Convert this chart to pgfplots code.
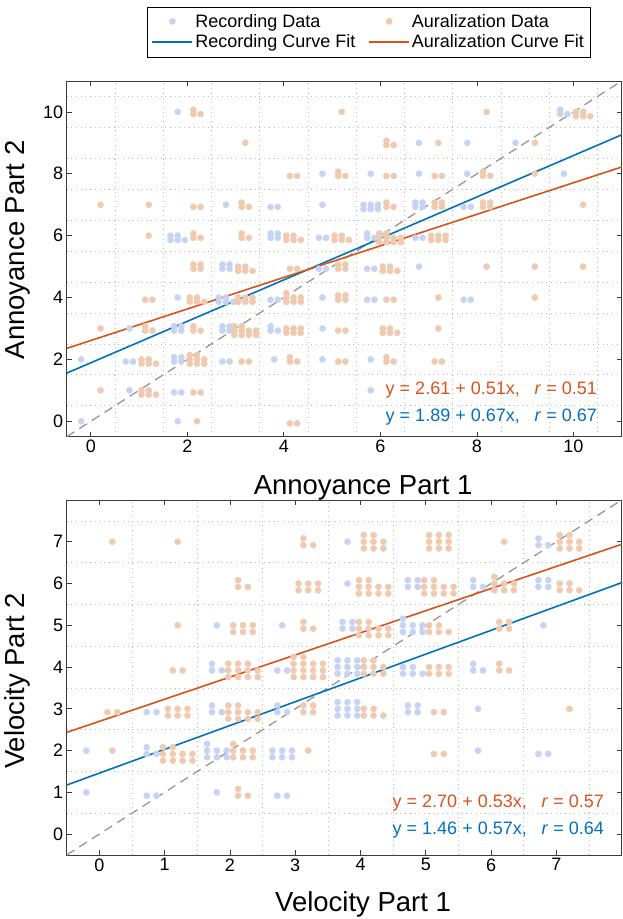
\documentclass[border=0pt]{standalone}
\usepackage{fontspec}
\setmainfont{Liberation Sans}
\usepackage{pgfplots}
\pgfplotsset{compat=1.18}
\definecolor{recpt}{RGB}{199,211,242}
\definecolor{aurpt}{RGB}{240,202,176}
\definecolor{recln}{RGB}{0,114,189}
\definecolor{aurln}{RGB}{217,83,25}
\definecolor{gridc}{RGB}{185,185,185}
\definecolor{axc}{RGB}{60,60,60}
\definecolor{dashc}{RGB}{150,150,150}
\pgfplotsset{
  myax/.style={
    scale only axis, width=555pt,
    axis line style={axc, line width=0.8pt},
    tick style={axc, line width=0.8pt},
    tick align=inside, major tick length=5pt, minor tick length=0pt,
    xminorgrids, yminorgrids,
    minor grid style={gridc, line width=0.7pt, dash pattern=on 0.7pt off 4pt},
    ticklabel style={font=\fontsize{18}{21}\selectfont},
    /pgf/number format/assume math mode=true,
    label style={font=\fontsize{27.5}{32}\selectfont},
  },
  recpts/.style={only marks, mark=*, mark size=3.1pt, color=recpt, line width=0.4pt},
  aurpts/.style={only marks, mark=*, mark size=3.1pt, color=aurpt, line width=0.4pt},
  diag/.style={no markers, forget plot, dashc, line width=1.3pt, dash pattern=on 9pt off 6pt},
}
\begin{document}
\begin{tikzpicture}
\useasboundingbox (0pt,0pt) rectangle (622pt,919pt);
% ---------------- top panel ----------------
\begin{axis}[myax, at={(66.7pt,482.3pt)}, anchor=south west, height=355.7pt,
  xmin=-0.5, xmax=11, ymin=-0.5, ymax=11,
  xtick={0,2,...,10}, ytick={0,2,...,10},
  minor xtick={0.5,1.5,...,10.5}, minor ytick={0.5,1.5,...,10.5},
  xlabel={Annoyance Part 1}, ylabel={Annoyance Part 2},
  xlabel style={at={(axis description cs:0.534,-0.144)}, anchor=center},
  ylabel style={at={(axis description cs:-0.088,0.525)}, anchor=center},
  legend columns=2, legend cell align=left,
  legend style={at={(axis description cs:0.5444,1)}, anchor=south, yshift=24pt,
    draw=black, fill=white, font=\fontsize{18}{24}\selectfont,
    inner xsep=4pt, inner ysep=5.5pt, row sep=2pt,
    /tikz/every even column/.append style={column sep=11pt}},
  legend image code/.code={\draw[mark repeat=2,mark phase=2,#1] plot coordinates {(0pt,0pt) (20pt,0pt) (40pt,0pt)};},
]
\addplot[recpts] coordinates {
(1.8,10) (9.725,9.93) (9.875,9.93) (9.725,10.07)
(6.8,9) (7.8,9) (8.8,9)
(4.8,8) (5.8,8) (6.8,8) (7.8,8) (9.8,8)
(2.8,7) (3.725,6.93) (3.875,6.93) (4.8,7)
(5.65,6.86) (5.8,6.86) (5.95,6.86) (5.65,7) (5.8,7) (5.95,7)
(6.725,6.93) (6.875,6.93) (6.725,7.07) (6.875,7.07) (7.725,6.93) (7.875,6.93)
(1.65,5.86) (1.8,5.86) (1.95,5.86) (1.65,6) (1.8,6)
(3.725,5.93) (3.875,5.93) (3.725,6.07) (3.875,6.07)
(4.725,5.93) (4.875,5.93) (5.725,5.93) (5.875,5.93) (5.725,6.07) (6.725,5.93) (6.875,5.93)
(2.725,4.93) (2.875,4.93) (2.725,5.07) (2.875,5.07)
(4.725,4.93) (4.875,4.93) (5.725,4.93) (5.875,4.93) (6.8,5)
(1.8,4) (2.65,3.86) (2.8,3.86) (2.95,3.86) (2.65,4) (2.8,4)
(3.725,3.93) (3.875,3.93) (4.8,4) (5.725,3.93) (5.875,3.93) (7.725,3.93) (7.875,3.93)
(0.8,3) (1.725,2.93) (1.875,2.93) (1.725,3.07) (1.875,3.07)
(2.725,2.93) (2.875,2.93) (2.725,3.07) (2.875,3.07)
(3.725,2.93) (3.875,2.93) (3.725,3.07) (4.8,3)
(-0.2,2) (0.725,1.93) (0.875,1.93) (1.725,1.93) (1.875,1.93) (1.725,2.07) (1.875,2.07)
(2.725,1.93) (2.875,1.93) (3.8,2) (4.8,2) (5.8,2)
(0.8,1) (1.725,0.93) (1.875,0.93) (5.8,1)
(-0.2,0) (1.8,0)
};
\addlegendentry{Recording Data}
\addplot[aurpts] coordinates {
(2.125,9.93) (2.275,9.93) (2.125,10.07) (5.2,10) (8.2,10)
(10.05,9.86) (10.2,9.86) (10.35,9.86) (10.05,10) (10.2,10)
(3.2,9) (6.125,8.93) (6.275,8.93) (6.125,9.07) (7.2,9) (9.2,9)
(4.125,7.93) (4.275,7.93) (5.125,7.93) (5.275,7.93) (5.125,8.07)
(6.125,7.93) (6.275,7.93) (7.125,7.93) (7.275,7.93)
(8.125,7.93) (8.275,7.93) (8.125,8.07) (9.2,8)
(0.2,7) (1.2,7) (2.125,6.93) (2.275,6.93) (3.125,6.93) (3.275,6.93) (3.125,7.07)
(6.125,6.93) (6.275,6.93) (6.125,7.07)
(7.125,6.93) (7.275,6.93) (7.125,7.07) (7.275,7.07)
(8.125,6.93) (8.275,6.93) (8.125,7.07) (8.275,7.07) (10.2,7)
(1.2,6) (2.125,5.93) (2.275,5.93) (2.125,6.07) (3.125,5.93) (3.275,5.93) (3.125,6.07)
(4.05,5.86) (4.2,5.86) (4.35,5.86) (4.05,6) (4.2,6)
(5.05,5.86) (5.2,5.86) (5.35,5.86) (5.05,6) (5.2,6)
(5.975,5.79) (6.125,5.79) (6.275,5.79) (6.425,5.79) (5.975,5.93) (6.125,5.93) (6.275,5.93) (6.425,5.93) (5.975,6.07) (6.125,6.07)
(7.05,5.86) (7.2,5.86) (7.35,5.86) (7.05,6) (7.2,6) (7.35,6)
(2.125,4.93) (2.275,4.93) (2.125,5.07) (2.275,5.07)
(3.05,4.86) (3.2,4.86) (3.35,4.86) (3.05,5) (3.2,5)
(4.125,4.93) (4.275,4.93) (5.125,4.93) (5.275,4.93) (5.125,5.07) (5.275,5.07)
(6.05,4.86) (6.2,4.86) (6.35,4.86) (6.05,5) (6.2,5) (8.2,5) (9.2,5) (10.2,5)
(1.125,3.93) (1.275,3.93)
(2.05,3.86) (2.2,3.86) (2.35,3.86) (2.05,4) (2.2,4)
(3.05,3.86) (3.2,3.86) (3.35,3.86) (3.05,4) (3.2,4) (3.35,4)
(4.05,3.86) (4.2,3.86) (4.35,3.86) (4.05,4) (4.2,4) (4.35,4) (4.05,4.14)
(5.125,3.93) (5.275,3.93) (5.125,4.07) (5.275,4.07) (6.125,3.93) (6.275,3.93) (7.2,4) (9.2,4)
(0.2,3) (1.125,2.93) (1.275,2.93) (1.125,3.07) (2.125,2.93) (2.275,2.93) (2.125,3.07)
(2.975,2.79) (3.125,2.79) (3.275,2.79) (3.425,2.79) (2.975,2.93) (3.125,2.93) (3.275,2.93) (3.425,2.93) (2.975,3.07) (3.125,3.07)
(4.05,2.86) (4.2,2.86) (4.35,2.86) (4.05,3) (4.2,3) (4.35,3)
(5.125,2.93) (5.275,2.93) (6.05,2.86) (6.2,2.86) (6.35,2.86) (6.05,3) (6.2,3) (7.2,3)
(1.05,1.86) (1.2,1.86) (1.35,1.86) (1.05,2) (1.2,2)
(2.05,1.86) (2.2,1.86) (2.35,1.86) (2.05,2) (2.2,2) (2.35,2) (2.05,2.14) (2.2,2.14)
(3.125,1.93) (3.275,1.93) (4.125,1.93) (4.275,1.93) (4.125,2.07)
(5.125,1.93) (5.275,1.93) (6.125,1.93) (6.275,1.93) (6.125,2.07) (7.125,1.93) (7.275,1.93)
(0.2,1) (1.05,0.86) (1.2,0.86) (1.35,0.86) (1.05,1) (1.2,1) (2.125,0.93) (2.275,0.93)
(2.2,0) (4.125,-0.07) (4.275,-0.07)
};
\addlegendentry{Auralization Data}
\addplot[diag] coordinates {(-0.5,-0.5) (11,11)};
\addplot[recln, line width=1.6pt, no markers] coordinates {(-0.5,1.555) (11,9.26)};
\addlegendentry{Recording Curve Fit}
\addplot[aurln, line width=1.6pt, no markers] coordinates {(-0.5,2.355) (11,8.22)};
\addlegendentry{Auralization Curve Fit}
\node[anchor=base east, inner sep=0pt, text=aurln, font=\fontsize{18}{21}\selectfont] at (axis cs:10.49,0.85) {y = 2.61 + 0.51x,\hspace{0.55em} \textit{r} = 0.51};
\node[anchor=base east, inner sep=0pt, text=recln, font=\fontsize{18}{21}\selectfont] at (axis cs:10.49,0.0) {y = 1.89 + 0.67x,\hspace{0.55em} \textit{r} = 0.67};
\end{axis}
% ---------------- bottom panel ----------------
\begin{axis}[myax, at={(66.7pt,64pt)}, anchor=south west, height=355pt,
  xmin=-0.5, xmax=8, ymin=-0.5, ymax=8,
  xtick={0,1,...,7}, ytick={0,1,...,7},
  minor xtick={0.5,1.5,...,7.5}, minor ytick={0.5,1.5,...,7.5},
  xlabel={Velocity Part 1}, ylabel={Velocity Part 2},
  xlabel style={at={(axis description cs:0.534,-0.139)}, anchor=center},
  ylabel style={at={(axis description cs:-0.088,0.49)}, anchor=center},
]
\addplot[recpts] coordinates {
(3.8,7) (6.725,6.92) (6.875,6.92) (6.725,7.08)
(3.8,6) (4.725,5.92) (4.875,5.92) (4.725,6.08) (4.875,6.08)
(5.725,5.92) (5.875,5.92) (5.725,6.08)
(6.725,5.92) (6.875,5.92) (6.725,6.08) (6.875,6.08)
(1.8,5) (2.8,5) (3.725,4.92) (3.875,4.92) (3.725,5.08) (3.875,5.08)
(4.65,4.84) (4.8,4.84) (4.95,4.84) (4.65,5) (4.8,5) (4.95,5) (4.65,5.16) (6.8,5)
(1.725,3.92) (1.875,3.92) (1.725,4.08) (2.725,3.92) (2.875,3.92)
(3.65,3.84) (3.8,3.84) (3.95,3.84) (3.65,4) (3.8,4) (3.95,4) (3.65,4.16) (3.8,4.16) (3.95,4.16)
(4.65,3.84) (4.8,3.84) (4.95,3.84) (4.65,4) (4.8,4)
(5.725,3.92) (5.875,3.92) (5.725,4.08)
(0.725,2.92) (0.875,2.92) (1.725,2.92) (1.875,2.92) (1.725,3.08)
(2.725,2.92) (2.875,2.92) (2.725,3.08)
(3.65,2.84) (3.8,2.84) (3.95,2.84) (3.65,3) (3.8,3) (3.95,3) (3.65,3.16) (3.8,3.16) (3.95,3.16)
(4.725,2.92) (4.875,2.92) (4.725,3.08) (4.875,3.08) (5.8,3)
(-0.2,2) (0.725,1.92) (0.875,1.92) (0.725,2.08)
(1.65,1.84) (1.8,1.84) (1.95,1.84) (1.65,2) (1.8,2) (1.95,2) (1.65,2.16)
(2.65,1.84) (2.8,1.84) (2.95,1.84) (2.65,2) (2.8,2) (2.95,2)
(5.8,2) (6.725,1.92) (6.875,1.92)
(-0.2,1) (0.725,0.92) (0.875,0.92) (1.8,1) (2.725,0.92) (2.875,0.92)
};
\addplot[aurpts] coordinates {
(0.2,7) (1.2,7) (3.125,6.92) (3.275,6.92) (3.125,7.08)
(4.05,6.84) (4.2,6.84) (4.35,6.84) (4.05,7) (4.2,7) (4.35,7) (4.05,7.16) (4.2,7.16)
(5.05,6.84) (5.2,6.84) (5.35,6.84) (5.05,7) (5.2,7) (5.35,7) (5.05,7.16) (5.2,7.16) (5.35,7.16)
(6.2,7)
(7.05,6.84) (7.2,6.84) (7.35,6.84) (7.05,7) (7.2,7) (7.35,7) (7.05,7.16) (7.2,7.16)
(2.125,5.92) (2.275,5.92) (2.125,6.08)
(3.05,5.84) (3.2,5.84) (3.35,5.84) (3.05,6) (3.2,6) (3.35,6)
(3.975,5.76) (4.125,5.76) (4.275,5.76) (4.425,5.76) (3.975,5.92) (4.125,5.92) (4.275,5.92) (4.425,5.92) (3.975,6.08) (4.125,6.08)
(4.975,5.76) (5.125,5.76) (5.275,5.76) (5.425,5.76) (4.975,5.92) (5.125,5.92) (5.275,5.92) (5.425,5.92) (4.975,6.08) (5.125,6.08)
(6.05,5.84) (6.2,5.84) (6.35,5.84) (6.05,6) (6.2,6) (6.35,6) (6.05,6.16)
(7.05,5.84) (7.2,5.84) (7.35,5.84) (7.05,6) (7.2,6)
(1.2,5) (2.05,4.84) (2.2,4.84) (2.35,4.84) (2.05,5) (2.2,5) (2.35,5)
(3.125,4.92) (3.275,4.92) (3.125,5.08)
(3.975,4.76) (4.125,4.76) (4.275,4.76) (4.425,4.76) (3.975,4.92) (4.125,4.92) (4.275,4.92) (4.425,4.92) (3.975,5.08) (4.125,5.08)
(5.05,4.84) (5.2,4.84) (5.35,4.84) (5.05,5) (5.2,5)
(6.125,4.92) (6.275,4.92) (6.125,5.08) (6.275,5.08)
(1.125,3.92) (1.275,3.92)
(1.975,3.76) (2.125,3.76) (2.275,3.76) (2.425,3.76) (1.975,3.92) (2.125,3.92) (2.275,3.92) (2.425,3.92) (1.975,4.08) (2.125,4.08) (2.275,4.08)
(2.975,3.76) (3.125,3.76) (3.275,3.76) (3.425,3.76) (2.975,3.92) (3.125,3.92) (3.275,3.92) (3.425,3.92) (2.975,4.08) (3.125,4.08) (3.275,4.08) (3.425,4.08) (2.975,4.24) (3.125,4.24)
(4.05,3.84) (4.2,3.84) (4.35,3.84) (4.05,4) (4.2,4) (4.35,4) (4.05,4.16) (4.2,4.16)
(5.05,3.84) (5.2,3.84) (5.35,3.84) (5.05,4) (5.2,4) (5.35,4)
(6.125,3.92) (6.275,3.92) (6.125,4.08)
(0.125,2.92) (0.275,2.92)
(1.05,2.84) (1.2,2.84) (1.35,2.84) (1.05,3) (1.2,3) (1.35,3)
(1.975,2.76) (2.125,2.76) (2.275,2.76) (2.425,2.76) (1.975,2.92) (2.125,2.92) (2.275,2.92) (2.425,2.92) (1.975,3.08) (2.125,3.08)
(3.125,2.92) (3.275,2.92) (3.125,3.08) (3.275,3.08)
(4.05,2.84) (4.2,2.84) (4.35,2.84) (4.05,3) (4.2,3)
(5.125,2.92) (5.275,2.92) (7.2,3)
(0.2,2) (0.975,1.76) (1.125,1.76) (1.275,1.76) (1.425,1.76) (0.975,1.92) (1.125,1.92) (1.275,1.92) (1.425,1.92) (0.975,2.08) (1.125,2.08)
(2.05,1.84) (2.2,1.84) (2.35,1.84) (2.05,2) (2.2,2) (2.35,2) (2.05,2.16)
(3.2,2) (5.125,1.92) (5.275,1.92)
(2.125,0.92) (2.275,0.92) (2.125,1.08)
};
\addplot[diag] coordinates {(-0.5,-0.5) (8,8)};
\addplot[recln, line width=1.6pt, no markers] coordinates {(-0.5,1.175) (8,6.02)};
\addplot[aurln, line width=1.6pt, no markers] coordinates {(-0.5,2.435) (8,6.94)};
\node[anchor=base east, inner sep=0pt, text=aurln, font=\fontsize{18}{21}\selectfont] at (axis cs:7.73,0.63) {y = 2.70 + 0.53x,\hspace{0.55em} \textit{r} = 0.57};
\node[anchor=base east, inner sep=0pt, text=recln, font=\fontsize{18}{21}\selectfont] at (axis cs:7.73,-0.01) {y = 1.46 + 0.57x,\hspace{0.55em} \textit{r} = 0.64};
\end{axis}
\end{tikzpicture}
\end{document}
